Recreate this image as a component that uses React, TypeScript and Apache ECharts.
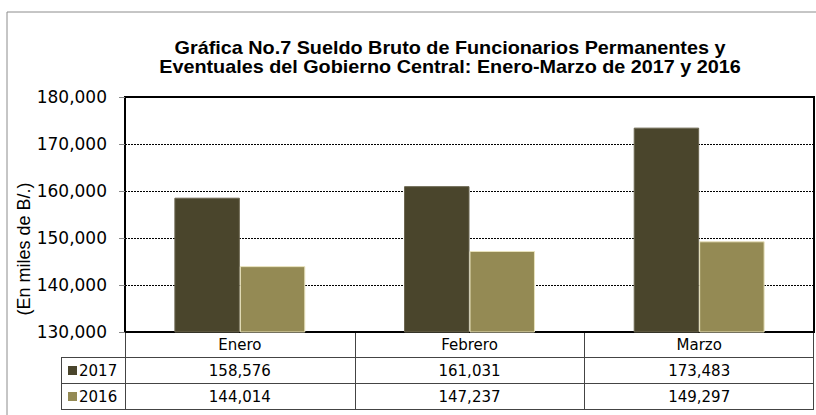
import React, { useEffect, useRef } from "react";
import * as echarts from "echarts";

const categories = ["Enero", "Febrero", "Marzo"];
const seriesNames = ["2017", "2016"];
const values2017 = [158576, 161031, 173483];
const values2016 = [144014, 147237, 149297];
const yMin = 130000;
const yMax = 180000;
const yInterval = 10000;
const titleLines = [
  "Gráfica No.7 Sueldo Bruto de Funcionarios Permanentes y",
  "Eventuales del Gobierno Central: Enero-Marzo de 2017 y 2016",
];
const yAxisName = "(En miles de B/.)";

const W = 816;
const H = 415;
const FONT = "'Liberation Sans', Arial, sans-serif";
const WIDE = "'DejaVu Sans', sans-serif";
const COLORS = ["#4a452c", "#948a54"];

const GL = 125;
const GR = 814;
const GT = 97;
const GB = 332;
const ROW1 = 357;
const ROW2 = 383;
const ROW3 = 409;
const TABLE_LEFT = 61;
const LINE = "#444";

const fmt = (v: number) => v.toLocaleString("en-US");

export default function App() {
  const ref = useRef<HTMLDivElement>(null);
  useEffect(() => {
    if (!ref.current) return;
    const chart = echarts.init(ref.current, null, { renderer: "svg" });
    const colW = (GR - GL) / categories.length;
    const rows = [values2017, values2016];
    const graphic: any[] = [];
    graphic.push({
      type: "rect",
      shape: { x: 7, y: 12, width: 830, height: 430 },
      style: { fill: "none", stroke: "#8c8c8c", lineWidth: 1 },
      silent: true,
    });
    titleLines.forEach((t, i) => {
      graphic.push({
        type: "text",
        x: 450,
        y: 48 + i * 18.5,
        scaleX: 1.1,
        style: {
          text: t,
          font: `bold 18px ${FONT}`,
          fill: "#000",
          align: "center",
          verticalAlign: "middle",
        },
      });
    });
    graphic.push({
      type: "text",
      x: 24,
      y: 249,
      rotation: Math.PI / 2,
      style: {
        text: yAxisName,
        font: `18px ${FONT}`,
        fill: "#000",
        align: "center",
        verticalAlign: "middle",
      },
    });
    const hl = (y: number, x1: number) =>
      graphic.push({
        type: "line",
        shape: { x1, y1: y, x2: GR, y2: y },
        style: { stroke: LINE, lineWidth: 1 },
        silent: true,
      });
    hl(ROW1 + 0.5, TABLE_LEFT);
    hl(ROW2 + 0.5, TABLE_LEFT);
    hl(ROW3 + 0.5, TABLE_LEFT);
    const vl = (x: number, y1: number, y2: number) =>
      graphic.push({
        type: "line",
        shape: { x1: x, y1, x2: x, y2 },
        style: { stroke: LINE, lineWidth: 1 },
        silent: true,
      });
    vl(TABLE_LEFT + 0.5, ROW1, ROW3 + 1);
    for (let i = 0; i <= categories.length; i++) {
      const x = Math.round(GL + i * colW) + (i === categories.length ? -0.5 : 0.5);
      vl(x, GB, ROW3 + 1);
    }
    const rowTops = [ROW1, ROW2];
    rows.forEach((vals, r) => {
      const cy = (rowTops[r] + (r === 0 ? ROW2 : ROW3)) / 2 + 1;
      graphic.push({
        type: "rect",
        shape: { x: 68, y: cy - 5, width: 9, height: 9 },
        style: { fill: COLORS[r] },
      });
      graphic.push({
        type: "text",
        x: 79,
        y: cy,
        style: {
          text: seriesNames[r],
          font: `15px ${WIDE}`,
          fill: "#000",
          align: "left",
          verticalAlign: "middle",
        },
      });
      vals.forEach((v, c) => {
        graphic.push({
          type: "text",
          x: GL + (c + 0.5) * colW,
          y: cy,
          style: {
            text: fmt(v),
            font: `15px ${WIDE}`,
            fill: "#000",
            align: "center",
            verticalAlign: "middle",
          },
        });
      });
    });

    chart.setOption({
      animation: false,
      backgroundColor: "#fff",
      grid: {
        left: GL,
        right: W - GR,
        top: GT,
        bottom: H - GB,
        show: true,
        borderColor: "#000",
        borderWidth: 2,
        backgroundColor: "transparent",
      },
      xAxis: {
        type: "category",
        data: categories,
        axisLine: { lineStyle: { color: "#000", width: 2 } },
        axisTick: { show: false },
        axisLabel: {
          color: "#000",
          fontFamily: WIDE,
          fontSize: 15,
          margin: 5,
        },
      },
      yAxis: {
        type: "value",
        min: yMin,
        max: yMax,
        interval: yInterval,
        axisLine: { show: true, lineStyle: { color: "#000", width: 2 } },
        axisTick: { show: true, length: 6, lineStyle: { color: "#888" } },
        splitLine: { lineStyle: { color: "#000", type: [2, 1], width: 1 } },
        axisLabel: {
          color: "#000",
          fontFamily: WIDE,
          fontSize: 17,
          margin: 18,
          formatter: (v: number) => fmt(v),
        },
      },
      series: [
        {
          name: seriesNames[0],
          type: "bar",
          data: values2017,
          barGap: "0%",
          barCategoryGap: "43%",
          itemStyle: { color: COLORS[0], borderColor: "#6b6650", borderWidth: 1 },
        },
        {
          name: seriesNames[1],
          type: "bar",
          data: values2016,
          barGap: "0%",
          barCategoryGap: "43%",
          itemStyle: { color: COLORS[1], borderColor: "#e8e2bc", borderWidth: 1 },
        },
      ],
      graphic,
    });
    return () => chart.dispose();
  }, []);
  return (
    <div
      ref={ref}
      style={{ position: "fixed", left: 0, top: 0, width: W, height: H, background: "#fff" }}
    />
  );
}
